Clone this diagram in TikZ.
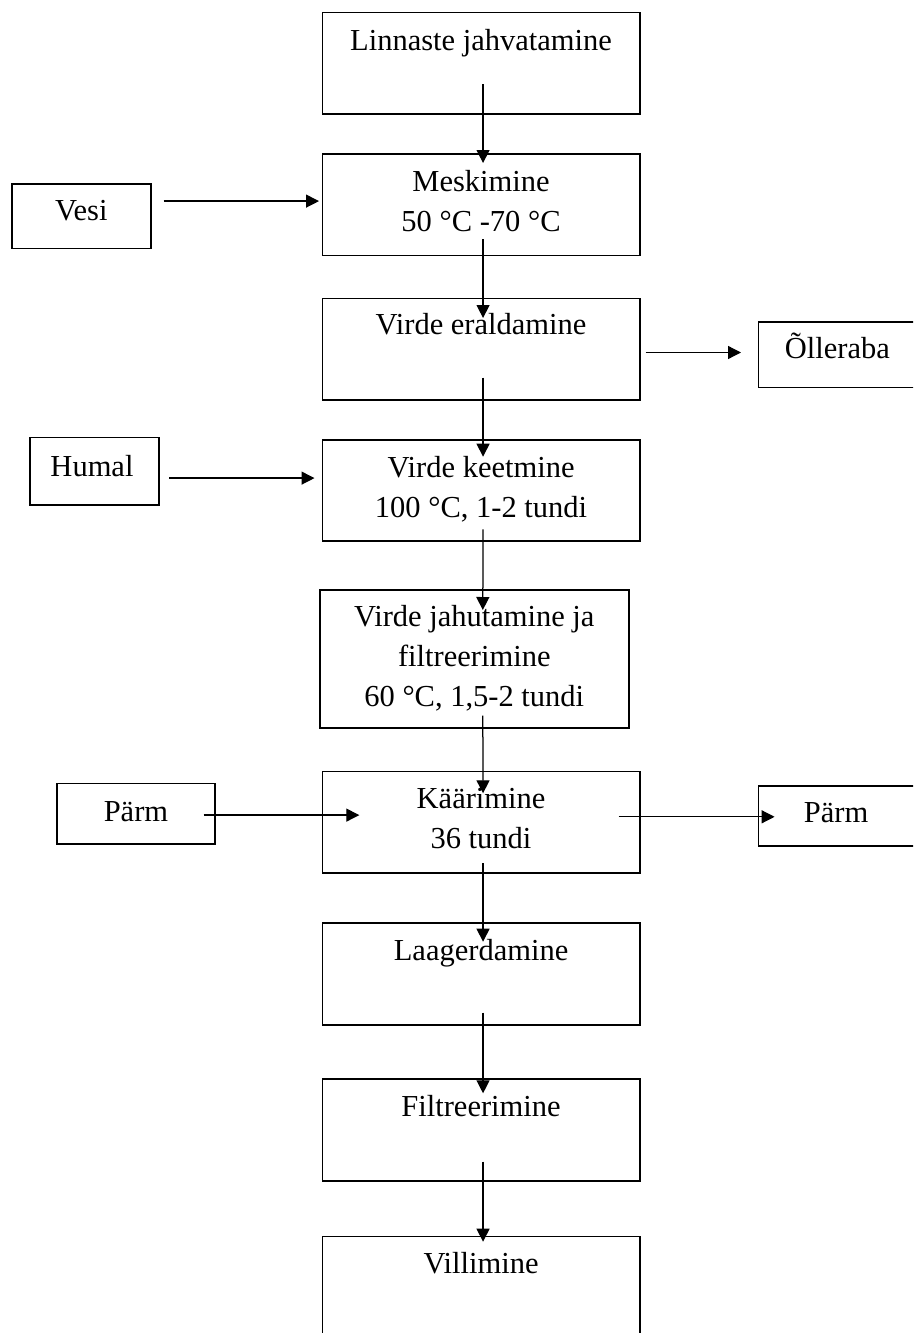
\documentclass[tikz,border=0pt]{standalone}
\usepackage{fontspec}
\setmainfont{Liberation Serif}
\usetikzlibrary{arrows.meta}
\tikzset{
  box/.style={draw, line width=1.6pt, rectangle, inner sep=0pt, anchor=north west},
  lbl/.style={inner sep=0pt, anchor=north, align=center, font=\fontsize{30.5}{40}\selectfont},
  arr/.style={line width=1.25pt, -{Triangle[length=13pt,width=13pt]}}
}
\begin{document}
\begin{tikzpicture}[x=1pt,y=-1pt]
\useasboundingbox (0,0) rectangle (913,1333);
\clip (0,0) rectangle (913,1333);
% main column
\node[box, minimum width=317.5pt, minimum height=101.6pt] (b1) at (321.5,11.7) {};
\node[box, minimum width=317.5pt, minimum height=101.4pt] (b2) at (321.5,153.3) {};
\node[box, minimum width=317.5pt, minimum height=101.6pt] (b3) at (321.5,297.7) {};
\node[box, minimum width=317.5pt, minimum height=100.7pt] (b4) at (321.5,439.3) {};
\node[box, minimum width=309pt, minimum height=138pt] (b5) at (319,589.3) {};
\node[box, minimum width=317.5pt, minimum height=101.6pt] (b6) at (321.5,770.7) {};
\node[box, minimum width=317.5pt, minimum height=102pt] (b7) at (321.5,922.3) {};
\node[box, minimum width=317.5pt, minimum height=101.7pt] (b8) at (321.5,1078.3) {};
\node[box, minimum width=317.5pt, minimum height=110pt] (b9) at (321.5,1235.7) {};
% side boxes
\node[box, minimum width=139pt, minimum height=64.4pt] (vesi) at (11,183.3) {};
\node[box, minimum width=129.4pt, minimum height=67.6pt] (humal) at (29,436.7) {};
\node[box, minimum width=162pt, minimum height=65.7pt] (olle) at (757.7,321) {};
\node[box, minimum width=158.3pt, minimum height=60.6pt] (parmL) at (56,782.7) {};
\node[box, minimum width=162pt, minimum height=60pt] (parmR) at (757.7,785) {};
% labels
\node[lbl] (t1) at ([yshift=-11pt]b1.north) {\strut Linnaste jahvatamine};
\node[lbl] (t2) at ([yshift=-9.5pt]b2.north) {\strut Meskimine\\50 °C -70 °C};
\node[lbl] (t3) at ([yshift=-9pt]b3.north) {\strut Virde eraldamine};
\node[lbl] (t4) at ([yshift=-10pt]b4.north) {\strut Virde keetmine\\100 °C, 1-2 tundi};
\node[lbl] (t5) at ([yshift=-9pt]b5.north) {\strut Virde jahutamine ja\\filtreerimine\\60 °C, 1,5-2 tundi};
\node[lbl] (t6) at ([yshift=-9.5pt]b6.north) {\strut Käärimine\\36 tundi};
\node[lbl] (t7) at ([yshift=-9.5pt]b7.north) {\strut Laagerdamine};
\node[lbl] (t8) at ([yshift=-9.5pt]b8.north) {\strut Filtreerimine};
\node[lbl] (t9) at ([yshift=-9.5pt]b9.north) {\strut Villimine};
\node[lbl] (tv) at ([yshift=-9pt]vesi.north) {\strut Vesi};
\node[lbl] (th) at ([shift={(-2.5pt,-12pt)}]humal.north) {\strut Humal};
\node[lbl, anchor=north west] (to) at ([shift={(27pt,-9pt)}]olle.north west) {\strut Õlleraba};
\node[lbl] (tpl) at ([yshift=-11pt]parmL.north) {\strut Pärm};
\node[lbl, anchor=north west] (tpr) at ([shift={(46pt,-9pt)}]parmR.north west) {\strut Pärm};
% vertical arrows
\draw[arr] ([shift={(2,-30.6)}]b1.south) -- ([shift={(2,9.7)}]b2.north);
\draw[arr] ([shift={(2,-17)}]b2.south) -- ([shift={(2,20.3)}]b3.north);
\draw[arr] ([shift={(2,-23.3)}]b3.south) -- ([shift={(2,17.4)}]b4.north);
\draw[arr] ([shift={(2,-12.3)}]b4.south) -- ([shift={(8.5,20.7)}]b5.north);
\draw[arr] ([shift={(8.5,-13.3)}]b5.south) -- ([shift={(2,22.6)}]b6.north);
\draw[arr] ([shift={(2,-10.6)}]b6.south) -- ([shift={(2,19.4)}]b7.north);
\draw[arr] ([shift={(2,-13.3)}]b7.south) -- ([shift={(2,15)}]b8.north);
\draw[arr] ([shift={(2,-20)}]b8.south) -- ([shift={(2,6)}]b9.north);
% horizontal arrows
\coordinate (vs) at ([shift={(12,-15.2)}]vesi.east);
\draw[arr] (vs) -- ([xshift=-2.5pt]vs -| b2.west);
\coordinate (hs) at ([shift={(9.3,6.8)}]humal.east);
\draw[arr] (hs) -- ([xshift=-7pt]hs -| b4.west);
\coordinate (os) at ([shift={(5,3.2)}]b3.east);
\draw[arr] (os) -- ([xshift=-16.7pt]os -| olle.west);
\coordinate (ps) at ([shift={(-12.3,1.3)}]parmL.east);
\draw[arr] (ps) -- ([xshift=37.8pt]ps -| b6.west);
\coordinate (pe) at ([shift={(16.9,1)}]parmR.west);
\draw[arr] ([xshift=-22pt]pe -| b6.east) -- (pe);
\end{tikzpicture}
\end{document}
